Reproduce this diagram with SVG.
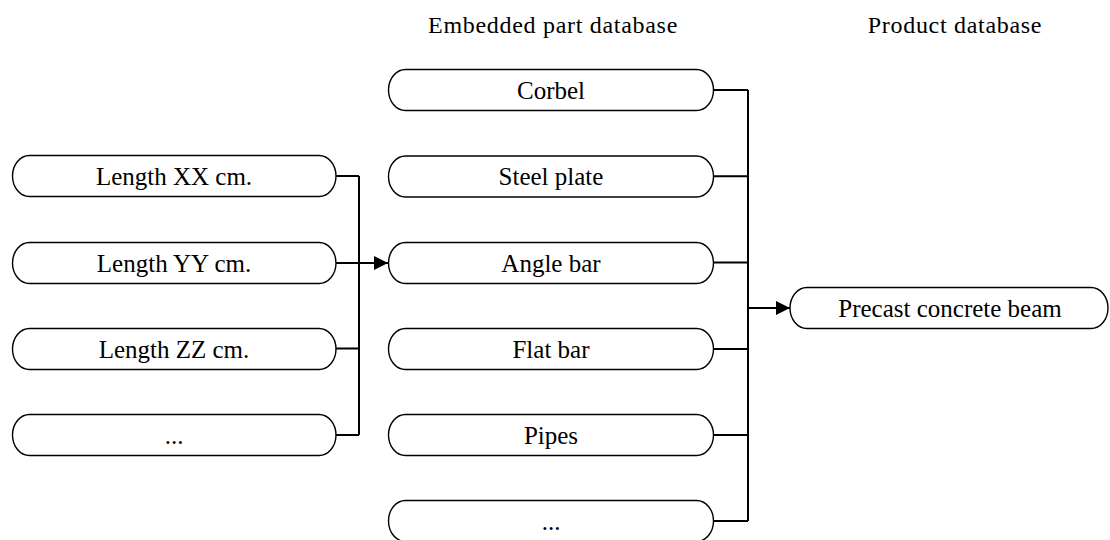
<svg xmlns="http://www.w3.org/2000/svg" width="1110" height="540" viewBox="0 0 1110 540">
<style>
  .box { fill: #ffffff; stroke: #000000; stroke-width: 1.4; }
  .lbl { font-family: "Liberation Serif", "Times New Roman", serif; font-size: 25px; fill: #000000; text-anchor: middle; }
  .title { font-family: "Liberation Serif", "Times New Roman", serif; font-size: 24px; letter-spacing: 0.7px; fill: #000000; text-anchor: middle; }
  .wire { fill: none; stroke: #000000; stroke-width: 2; }
</style>
<defs>
  <marker id="arr" viewBox="0 0 14 14" refX="14" refY="7" markerWidth="14" markerHeight="14" markerUnits="userSpaceOnUse" orient="auto">
    <path d="M0,0 L14,7 L0,14 Z" fill="#000000"/>
  </marker>
</defs>

<text class="title" x="553" y="33">Embedded part database</text>
<text class="title" x="955" y="33">Product database</text>

<g id="connectors">
  <path class="wire" d="M336,176 H359 M336,348.6 H359 M336,435 H359 M359,176 V435"/>
  <path class="wire" d="M336,263 H388" marker-end="url(#arr)"/>
  <path class="wire" d="M713.5,90 H748 M713.5,176.3 H748 M713.5,262.6 H748 M713.5,349 H748 M713.5,435 H748 M713.5,521 H748 M748,90 V521"/>
  <path class="wire" d="M748,308 H790" marker-end="url(#arr)"/>
</g>

<g id="n-xx"><rect class="box" x="12.5" y="155.5" width="323.5" height="41" rx="17" ry="20.5"/><text class="lbl" x="174" y="184.5">Length XX cm.</text></g>
<g id="n-yy"><rect class="box" x="12.5" y="242.5" width="323.5" height="41" rx="17" ry="20.5"/><text class="lbl" x="174" y="271.5">Length YY cm.</text></g>
<g id="n-zz"><rect class="box" x="12.5" y="328.5" width="323.5" height="41" rx="17" ry="20.5"/><text class="lbl" x="174" y="357.5">Length ZZ cm.</text></g>
<g id="n-ldots"><rect class="box" x="12.5" y="414.5" width="323.5" height="41" rx="17" ry="20.5"/><text class="lbl" x="174" y="443.5">...</text></g>

<g id="n-corbel"><rect class="box" x="388.5" y="69.5" width="325" height="41" rx="17" ry="20.5"/><text class="lbl" x="551" y="98.5">Corbel</text></g>
<g id="n-steel"><rect class="box" x="388.5" y="156" width="325" height="41" rx="17" ry="20.5"/><text class="lbl" x="551" y="185">Steel plate</text></g>
<g id="n-angle"><rect class="box" x="388.5" y="242.5" width="325" height="41" rx="17" ry="20.5"/><text class="lbl" x="551" y="271.5">Angle bar</text></g>
<g id="n-flat"><rect class="box" x="388.5" y="328.5" width="325" height="41" rx="17" ry="20.5"/><text class="lbl" x="551" y="357.5">Flat bar</text></g>
<g id="n-pipes"><rect class="box" x="388.5" y="414.5" width="325" height="41" rx="17" ry="20.5"/><text class="lbl" x="551" y="443.5">Pipes</text></g>
<g id="n-mdots"><rect class="box" x="388.5" y="500.5" width="325" height="41" rx="17" ry="20.5"/><text class="lbl" x="551" y="529.5">...</text></g>

<g id="n-beam"><rect class="box" x="790" y="287.5" width="318" height="41" rx="17" ry="20.5"/><text class="lbl" x="950" y="316.5">Precast concrete beam</text></g>
</svg>
